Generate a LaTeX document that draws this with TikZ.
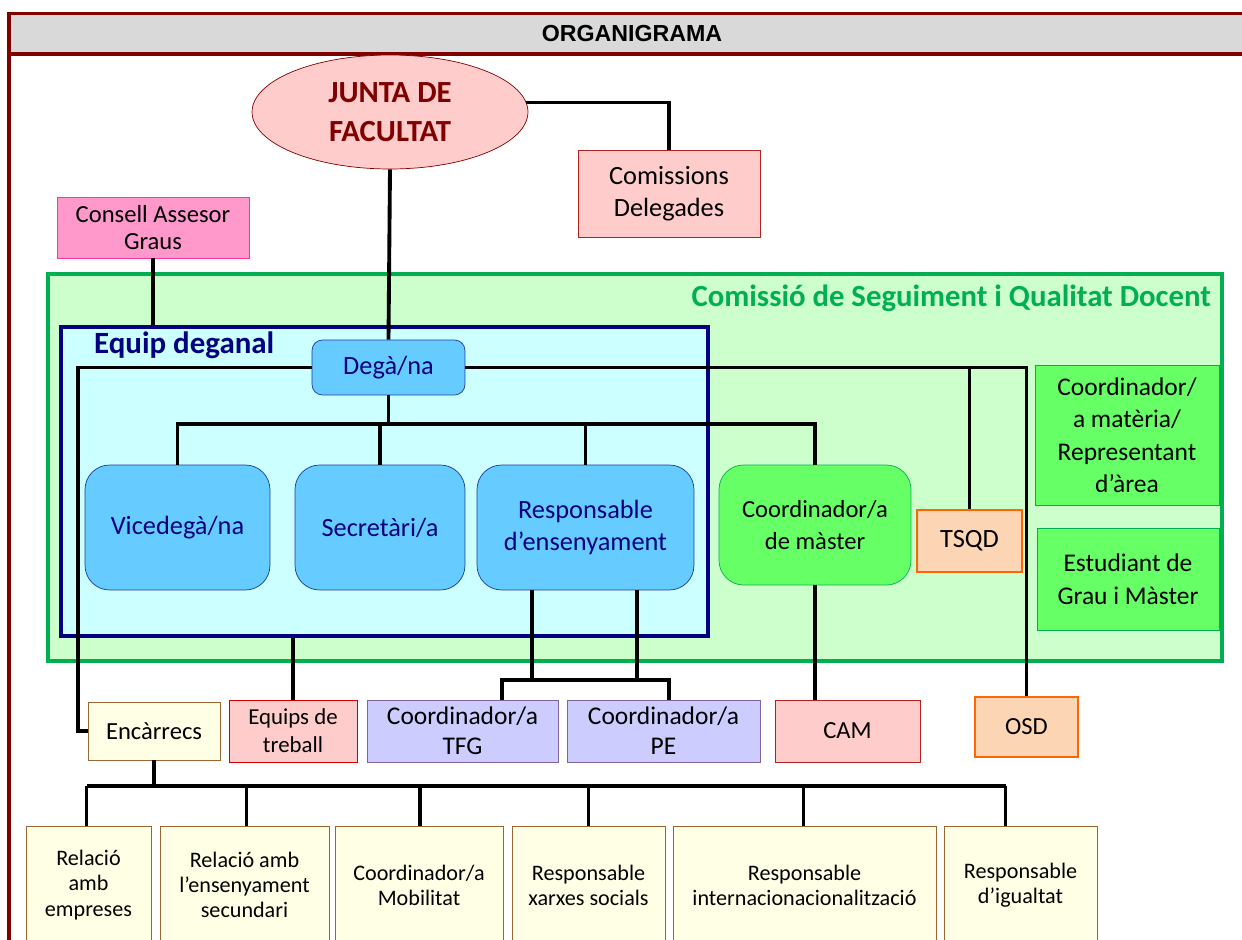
\documentclass[tikz,border=0pt]{standalone}
\usepackage{fontspec}
\setmainfont{Carlito}
\newfontfamily\arialfont{Liberation Sans}
\usetikzlibrary{shapes.geometric,calc}

\definecolor{framered}{HTML}{800000}
\definecolor{titlegray}{HTML}{D9D9D9}
\definecolor{juntafill}{HTML}{FFCCCC}
\definecolor{consfill}{HTML}{FF99CC}
\definecolor{consdraw}{HTML}{FF3399}
\definecolor{csqfill}{HTML}{CCFFCC}
\definecolor{csqgreen}{HTML}{00B050}
\definecolor{eqfill}{HTML}{CCFFFF}
\definecolor{navy}{HTML}{000080}
\definecolor{bluefill}{HTML}{66CCFF}
\definecolor{bluedraw}{HTML}{1A3A9A}
\definecolor{greenfill}{HTML}{66FF66}
\definecolor{peach}{HTML}{FCD5B4}
\definecolor{orangedraw}{HTML}{FF6600}
\definecolor{reddraw}{HTML}{B22222}
\definecolor{lilac}{HTML}{CCCCFF}
\definecolor{purpledraw}{HTML}{8064A2}
\definecolor{paleyellow}{HTML}{FFFFE5}
\definecolor{browndraw}{HTML}{996633}

\tikzset{
  box/.style={draw, rectangle, align=center, inner sep=2pt, font=\fontsize{14}{18}\selectfont},
  bluebox/.style={box, fill=bluefill, draw=bluedraw, text=navy, rounded corners=14pt, font=\fontsize{15}{18}\selectfont},
  greenbox/.style={box, fill=greenfill, draw=csqgreen},
  pinkbox/.style={box, fill=juntafill, draw=reddraw},
  peachbox/.style={box, fill=peach, draw=orangedraw, line width=0.8pt},
  lilacbox/.style={box, fill=lilac, draw=purpledraw},
  lowbox/.style={box, fill=paleyellow, draw=browndraw, minimum height=2.36cm, font=\fontsize{12.6}{14.3}\selectfont},
  link/.style={line width=2.2pt, black},
}

\begin{document}
\begin{tikzpicture}[x=0.02cm,y=-0.02cm]
  \useasboundingbox (0,0) rectangle (1242,940);
  \clip (0,0) rectangle (1242,940);

  % Frame and title bar
  \fill[titlegray] (9,14) rectangle (1242,54);
  \draw[framered, line width=2pt] (1242,13.5) -- (9,13.5) -- (9,940);
  \draw[framered, line width=2.3pt] (9,54) -- (1242,54);
  \node[font=\arialfont\bfseries\fontsize{13.2}{15}\selectfont] (title) at (632,34) {ORGANIGRAMA};

  % Regions
  \node[draw=csqgreen, fill=csqfill, line width=2.5pt, inner sep=0, minimum width=23.48cm, minimum height=7.74cm] (csq) at (635,467.5) {};
  \node[anchor=east, text=csqgreen, font=\bfseries\fontsize{17.5}{20}\selectfont] (csqtitle) at (1217,298) {Comissió de Seguiment i Qualitat Docent};
  \node[draw=navy, fill=eqfill, line width=1.8pt, inner sep=0, minimum width=12.94cm, minimum height=6.18cm] (eqd) at (384.5,481.5) {};
  \node[anchor=west, text=navy, font=\bfseries\fontsize{17.6}{20}\selectfont] (eqdtitle) at (88,345) {Equip deganal};

  % Top
  \node[ellipse, draw=framered, fill=juntafill, inner sep=0, minimum width=5.52cm, minimum height=2.28cm, align=center,
        text=framered, font=\bfseries\fontsize{17.5}{22}\selectfont] (junta) at (390,112) {JUNTA DE\\FACULTAT};
  \node[pinkbox, minimum width=3.64cm, minimum height=1.74cm, font=\fontsize{15}{18}\selectfont] (comis) at (669,193.5) {Comissions\\Delegades};
  \node[box, fill=consfill, draw=consdraw, minimum width=3.84cm, minimum height=1.22cm,
        font=\fontsize{14}{15}\selectfont] (consell) at (153,227.5) {Consell Assesor\\Graus};

  % Equip deganal
  \node[bluebox, rounded corners=6pt, minimum width=3.06cm, minimum height=1.1cm] (dega) at (388.5,367.5) {Degà/na};
  \node[bluebox, minimum width=3.7cm, minimum height=2.5cm] (vice) at (177.5,527.5) {Vicedegà/na};
  \node[bluebox, minimum width=3.4cm, minimum height=2.5cm] (secr) at (380,527.5) {Secretàri/a};
  \node[bluebox, minimum width=4.34cm, minimum height=2.5cm] (resp) at (585.5,527.5) {Responsable\\d’ensenyament};

  % Comissio
  \node[greenbox, rounded corners=14pt, minimum width=3.84cm, minimum height=2.4cm] (mast) at (815,525) {Coordinador/a\\de màster};
  \node[peachbox, minimum width=2.1cm, minimum height=1.24cm, font=\fontsize{15}{18}\selectfont] (tsqd) at (969.5,541) {TSQD};
  \node[greenbox, minimum width=3.68cm, minimum height=2.8cm, font=\fontsize{14.5}{18.5}\selectfont] (coma) at (1127,435)
        {Coordinador/\\a matèria/\\Representant\\d’àrea};
  \node[greenbox, minimum width=3.64cm, minimum height=2.04cm, font=\fontsize{14.5}{18.5}\selectfont] (estu) at (1128,579)
        {Estudiant de\\Grau i Màster};

  % Middle row
  \node[box, fill=paleyellow, draw=browndraw, minimum width=2.64cm, minimum height=1.16cm] (encar) at (154,731) {Encàrrecs};
  \node[pinkbox, draw=red!80!black, minimum width=2.56cm, minimum height=1.24cm, font=\fontsize{13}{16}\selectfont] (equips) at (293,731) {Equips de\\treball};
  \node[lilacbox, minimum width=3.82cm, minimum height=1.24cm, font=\fontsize{14.5}{17}\selectfont] (tfg) at (462.5,731) {Coordinador/a\\TFG};
  \node[lilacbox, minimum width=3.86cm, minimum height=1.24cm, font=\fontsize{14.5}{17}\selectfont] (pe) at (663.5,731) {Coordinador/a\\PE};
  \node[pinkbox, minimum width=2.9cm, minimum height=1.24cm] (cam) at (847.5,731) {CAM};
  \node[peachbox, minimum width=2.06cm, minimum height=1.2cm] (osd) at (1026.5,727) {OSD};

  % Encarrecs
  \foreach \n/\x/\w/\t in {b1/88.5/2.5/{Relació\\amb\\empreses},
                           b2/244.5/3.38/{Relació amb\\l’ensenyament\\secundari},
                           b3/419/3.36/{Coordinador/a\\Mobilitat},
                           b4/588.5/3.06/{Responsable\\xarxes socials},
                           b5/804.5/5.26/{Responsable\\internacionacionalització},
                           b6/1020.5/3.06/{Responsable\\d’igualtat}}
    \node[lowbox, minimum width=\w cm] (\n) at (\x,885) {\t};

  % Connectors
  \coordinate (bar) at (0,424);
  \coordinate (lft) at (78,731);
  \coordinate (r1) at (532,680);
  \coordinate (r2) at (637,680);
  \coordinate (t1) at (502,680);
  \coordinate (t2) at (669,680);
  \draw[link] (junta.south) -- (dega.north);
  \draw[link] (junta.4) -| (comis.north);
  \draw[link] (consell.south) -- (consell.south |- eqd.north);
  \draw[link] (dega.west) -| (lft) -- (encar.west);
  \draw[link] (dega.east) -| (osd.north);
  \draw[link] (tsqd.north) -- (tsqd.north |- dega.east);
  \draw[link] (dega.south) -- (dega.south |- bar);
  \draw[link] (vice.north) -- (vice.north |- bar) -- (mast.north |- bar) -- (mast.north);
  \draw[link] (secr.north) -- (secr.north |- bar);
  \draw[link] (resp.north) -- (resp.north |- bar);
  \draw[link] (r1 |- resp.south) -- (r1);
  \draw[link] (r2 |- resp.south) -- (r2);
  \draw[link] (t1 |- tfg.north) -- (t1) -- (t2) -- (t2 |- pe.north);
  \draw[link] (eqd.south -| equips.north) -- (equips.north);
  \draw[link] (mast.south) -- (mast.south |- cam.north);
  \draw[link] (encar.south) -- ($(encar.south)+(0,26)$);
  \draw[link] ($(b1.north)+(-2,-40)$) -- ($(b6.north)+(-15,-40)$);
  \foreach \n/\dx in {b1/-2,b2/2,b3/1,b4/0,b5/-1,b6/-15}
    \draw[link] ($(\n.north)+(\dx,0)$) -- ($(\n.north)+(\dx,-40)$);
\end{tikzpicture}
\end{document}
